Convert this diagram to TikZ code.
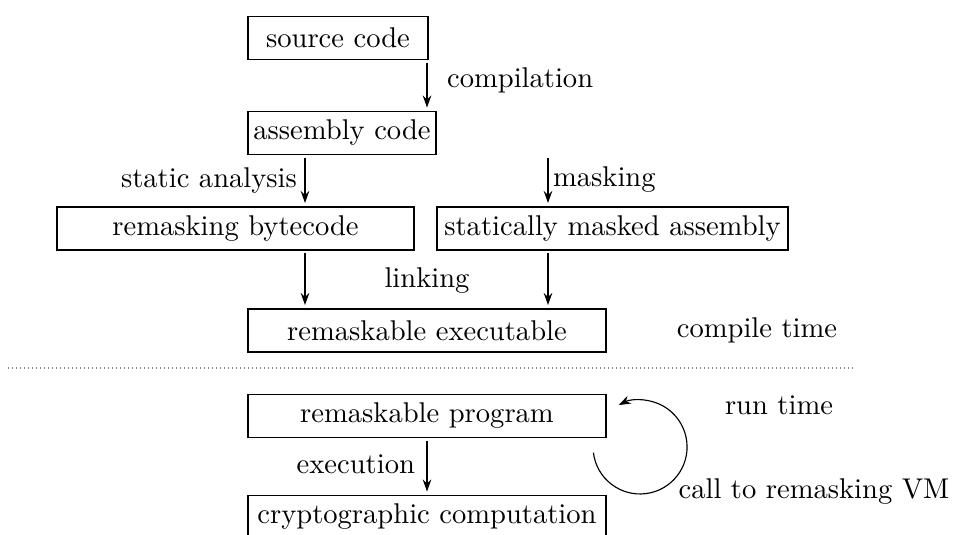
\documentclass[tikz,border=0pt]{standalone}
\usetikzlibrary{arrows.meta,calc}
\begin{document}
\begin{tikzpicture}[x=0.35pt,y=-0.35pt,
  box/.style={draw, minimum height=15.05pt, inner sep=0pt},
  lbl/.style={inner sep=3.33pt},
  flow/.style={-{Stealth[length=4.2pt,width=3pt]}, shorten <=1pt, shorten >=1.2pt},
  sep/.style={densely dotted, gray},
]
\clip (0,0) rectangle (957,535);

% stages of the tool chain
\node[box, minimum width=63pt]    (src) at (338,38)    {source code};
\node[box, minimum width=65.8pt]  (asm) at (342,133)   {assembly code};
\node[box, minimum width=124.95pt](rbc) at (235.5,228.5) {remasking bytecode};
\node[box, minimum width=122.85pt](sma) at (612.5,228.5) {statically masked assembly};
\node[box, minimum width=125.3pt] (rex) at (427,330.5) {remaskable executable};
\node[box, minimum width=125.3pt] (rpg) at (427,416)   {remaskable program};
\node[box, minimum width=125.3pt] (cry) at (427,517)   {cryptographic computation};

% columns for the vertical arrows
\coordinate (colA) at (305,0);
\coordinate (colB) at (548,0);
\coordinate (colC) at (427,0);

\draw[flow] (src.south -| colC) -- (asm.north -| colC);
\draw[flow] (asm.south -| colA) -- (rbc.north -| colA);
\draw[flow] (asm.south -| colB) -- (sma.north -| colB);
\draw[flow] (rbc.south -| colA) -- (rex.north -| colA);
\draw[flow] (sma.south -| colB) -- (rex.north -| colB);
\draw[flow] (rpg.south -| colC) -- (cry.north -| colC);

% arrow labels
\node[lbl, anchor=west] (lcomp) at (437,80)  {compilation};
\node[lbl, anchor=east] (lstat) at (307,181) {static analysis};
\node[lbl, anchor=west] (lmask) at (543,180) {masking};
\node[lbl]              (llink) at (427,281) {linking};
\node[lbl, anchor=east] (lexec) at (425,464) {execution};

% compile time / run time separator
\coordinate (sepL) at (8,368);
\coordinate (sepR) at (855,368);
\draw[sep] (sepL) -- (sepR);
\node[lbl] (lct) at (757,330) {compile time};
\node[lbl] (lrt) at (779,405) {run time};

% call into the remasking VM
\coordinate (loopstart) at (593.4,452.7);
\draw[-{Stealth[length=4.2pt,width=3pt]}] (loopstart) arc[start angle=187, end angle=477, radius=16.45pt];
\node[lbl] (lvm) at (814,492) {call to remasking VM};
\end{tikzpicture}
\end{document}
